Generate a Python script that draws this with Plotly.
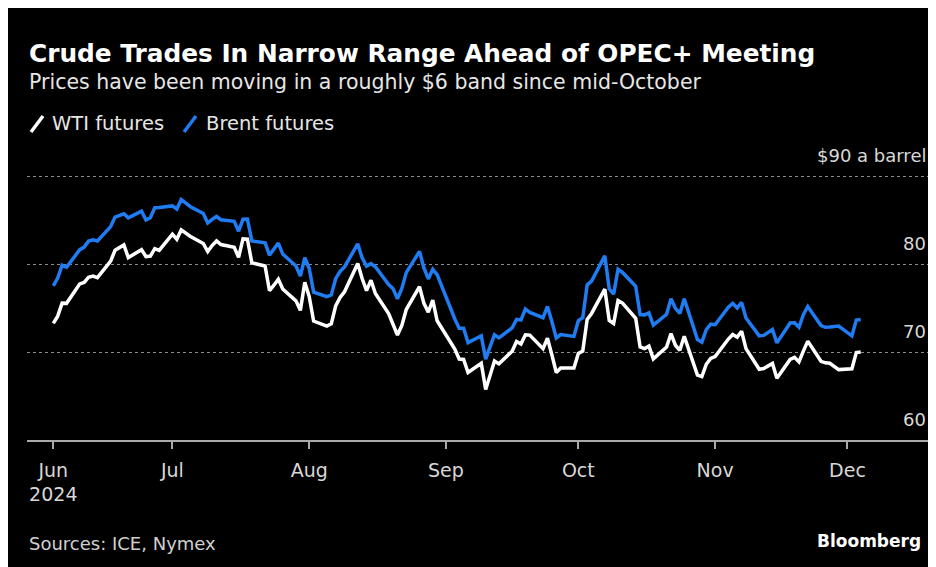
import pandas as pd
import plotly.graph_objects as go

# ---------------- data ----------------
holidays = ["2024-06-19", "2024-07-04", "2024-09-02", "2024-11-28"]
dates = [d for d in pd.bdate_range("2024-06-04", "2024-12-04") if d.strftime("%Y-%m-%d") not in holidays]

wti = [
    # Jun
    73.25, 74.07, 75.55, 75.53, 77.74, 77.90, 78.50, 78.62, 78.45, 80.33, 81.57, 82.17, 80.73,
    81.63, 80.83, 80.90, 81.74, 81.54,
    # Jul
    83.38, 82.81, 83.88, 83.16, 82.33, 81.41, 82.10, 82.62, 82.21, 81.91, 80.76, 82.85, 82.82,
    80.13, 79.78, 76.96, 77.59, 78.28, 77.16, 75.81, 74.73, 77.91,
    # Aug
    76.31, 73.52, 72.94, 73.20, 75.23, 76.19, 76.84, 80.06, 78.35, 76.98, 78.16, 76.65, 74.37,
    73.17, 71.93, 73.01, 74.83, 77.42, 75.53, 74.52, 75.91, 73.55,
    # Sep
    70.34, 69.20, 69.15, 67.67, 68.71, 65.75, 67.31, 68.97, 68.65, 70.09, 71.19, 70.91, 71.95,
    71.92, 70.37, 71.56, 69.69, 67.67, 68.18, 68.17,
    # Oct
    69.83, 70.10, 73.71, 74.38, 77.14, 73.57, 73.24, 75.85, 75.56, 73.83, 70.58, 70.39, 70.67,
    69.22, 70.56, 72.09, 70.77, 70.19, 71.78, 67.38, 67.21, 68.61, 69.26,
    # Nov
    69.49, 71.47, 71.99, 71.69, 72.36, 70.38, 68.04, 68.12, 68.43, 68.70, 67.02, 69.16, 69.39,
    68.87, 70.10, 71.24, 68.94, 68.77, 68.72, 68.00,
    # Dec
    68.10, 69.94, 70.00,
]

brent = [
    # Jun
    77.52, 78.41, 79.87, 79.62, 81.63, 81.92, 82.60, 82.75, 82.62, 84.25, 85.33, 85.71, 85.24,
    86.01, 85.01, 85.25, 86.39, 86.41,
    # Jul
    86.60, 86.24, 87.34, 86.54, 85.75, 84.66, 85.08, 85.40, 85.03, 84.85, 83.73, 85.08, 85.11,
    82.63, 82.40, 81.01, 81.71, 82.37, 81.13, 79.78, 78.63, 80.72,
    # Aug
    79.52, 76.81, 76.30, 76.48, 78.33, 79.16, 79.66, 82.30, 80.69, 79.76, 80.04, 79.68, 77.66,
    77.20, 76.05, 77.22, 79.02, 81.43, 79.55, 78.30, 79.40, 78.80,
    # Sep
    73.75, 72.70, 72.69, 71.06, 71.84, 69.19, 70.61, 71.97, 71.61, 72.75, 73.70, 73.65, 74.88,
    74.49, 73.90, 75.17, 73.46, 71.60, 71.98, 71.77,
    # Oct
    73.56, 73.90, 77.62, 78.05, 80.93, 77.18, 76.58, 79.40, 79.04, 77.46, 74.25, 74.22, 74.45,
    73.06, 74.29, 76.04, 74.96, 74.38, 76.05, 71.42, 71.12, 72.55, 73.16,
    # Nov
    73.10, 75.08, 75.53, 75.00, 75.63, 73.87, 71.83, 71.89, 72.28, 72.56, 71.04, 73.30, 73.31,
    72.81, 74.23, 75.17, 73.01, 72.81, 72.83, 72.94,
    # Dec
    71.83, 73.62, 73.70,
]

month_ticks = ["2024-06-04", "2024-07-01", "2024-08-01", "2024-09-01", "2024-10-01", "2024-11-01", "2024-12-01"]
month_labels = ["Jun<br>2024", "Jul", "Aug", "Sep", "Oct", "Nov", "Dec"]
y_ticks = [90, 80, 70, 60]
y_labels = ["$90 a barrel", "80", "70", "60"]

# ---------------- layout helpers ----------------
W, H = 936, 567
OFF = 8  # page body margin: figure starts at page (8, 8)
L, R, T, B = 19, 16, 164, 135
PW, PH = W - L - R, H - T - B
Y_TOP = 90 + 4 / 8.8  # small headroom so the $90 gridline is drawn inside the plot


def px(x):
    """page x pixel -> paper coordinate"""
    return (x - OFF - L) / PW


def py(y):
    """page y pixel -> paper coordinate"""
    return (H - B - (y - OFF)) / PH


FONT = "DejaVu Sans"
BLUE = "#1f7cf2"

fig = go.Figure()
fig.add_trace(go.Scatter(x=dates, y=brent, mode="lines", line=dict(color=BLUE, width=3.5),
                         name="Brent futures", showlegend=False, hoverinfo="skip"))
fig.add_trace(go.Scatter(x=dates, y=wti, mode="lines", line=dict(color="#ffffff", width=3.5),
                         name="WTI futures", showlegend=False, hoverinfo="skip"))

shapes = [
    dict(type="line", xref="paper", yref="paper", x0=px(31), y0=py(132), x1=px(43), y1=py(116),
         line=dict(color="white", width=3.5)),
    dict(type="line", xref="paper", yref="paper", x0=px(184), y0=py(132), x1=px(196), y1=py(116),
         line=dict(color=BLUE, width=3.5)),
]

annotations = [
    dict(text="<b>Crude Trades In Narrow Range Ahead of OPEC+ Meeting</b>", x=px(27), y=py(53),
         font=dict(size=24.8, color="white", family=FONT)),
    dict(text="Prices have been moving in a roughly $6 band since mid-October", x=px(27), y=py(82),
         font=dict(size=20.5, color="#e6e6e6", family=FONT)),
    dict(text="WTI futures", x=px(50), y=py(124), font=dict(size=19.5, color="#e6e6e6", family=FONT)),
    dict(text="Brent futures", x=px(204), y=py(124), font=dict(size=19.5, color="#e6e6e6", family=FONT)),
    dict(text="Sources: ICE, Nymex", x=px(27), y=py(543), font=dict(size=18, color="#d0d0d0", family=FONT)),
    dict(text="<b>Bloomberg</b>", x=px(923), y=py(541), xanchor="right",
         font=dict(size=17, color="white", family=FONT)),
]
for a in annotations:
    a.setdefault("xanchor", "left")
    a.update(xref="paper", yref="paper", yanchor="middle", showarrow=False)

for v, t in zip(y_ticks, y_labels):
    annotations.append(dict(text=t, x=px(928), xref="paper", y=v, yref="y", xanchor="right",
                            yanchor="middle", yshift=21, showarrow=False,
                            font=dict(size=18, color="#d8d8d8", family=FONT)))

fig.update_layout(
    width=W, height=H,
    margin=dict(l=L, r=R, t=T, b=B, pad=0),
    paper_bgcolor="black", plot_bgcolor="black",
    shapes=shapes, annotations=annotations,
    showlegend=False,
    xaxis=dict(
        type="date", range=["2024-05-29 01:00", "2024-12-19 06:00"],
        tickvals=month_ticks, ticktext=month_labels,
        showgrid=False, zeroline=False,
        showline=True, linecolor="#aaaaaa", linewidth=1.5,
        ticks="outside", ticklen=7, tickwidth=1.5, tickcolor="#aaaaaa",
        tickfont=dict(size=19, color="#d8d8d8", family=FONT),
        ticklabelstandoff=5,
    ),
    yaxis=dict(
        range=[60, Y_TOP], tickvals=[90, 80, 70], showticklabels=False,
        showgrid=True, gridcolor="#8a8a8a", griddash="dot", gridwidth=1,
        zeroline=False, showline=False, ticks="",
    ),
)

fig.write_html("out.html")
